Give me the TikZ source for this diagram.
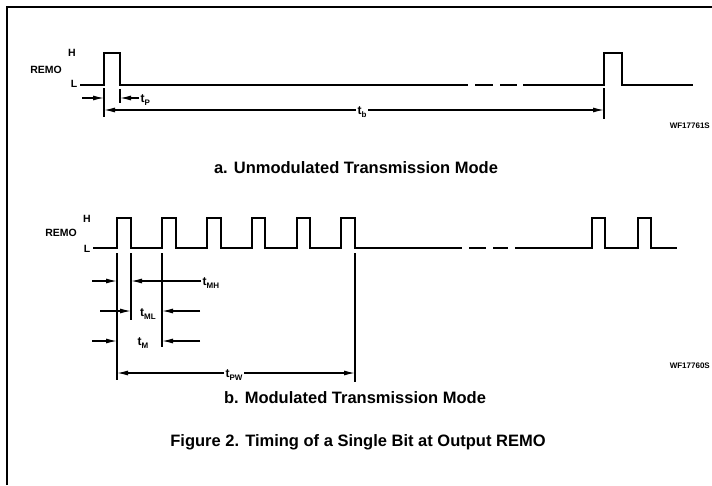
\documentclass[tikz,border=0pt]{standalone}
\usepackage{fontspec}
\setmainfont{Liberation Sans}
\usetikzlibrary{arrows.meta}
\newcommand\tsub[1]{t\raisebox{-0.5ex}{\fontsize{8}{9}\selectfont #1}}
\begin{document}
\begin{tikzpicture}[x=1pt,y=-1pt,
  wave/.style={line width=2.8pt, line join=miter, line cap=butt},
  tickline/.style={line width=1.2pt},
  arr/.style={line width=1.2pt,-{Latex[length=11pt,width=5pt]}},
  lab/.style={font=\bfseries\fontsize{10.5}{11}\selectfont, inner sep=0pt},
  tlab/.style={font=\bfseries\fontsize{12}{13}\selectfont, inner sep=1.5pt},
  code/.style={font=\bfseries\fontsize{8}{9}\selectfont, inner sep=0pt, anchor=east},
  title/.style={font=\bfseries\fontsize{16.5}{18}\selectfont, inner sep=0pt}
]
\useasboundingbox (0,0) rectangle (712,485);
% frame
\draw[line width=1.3pt] (7,485) -- (7,7) -- (712,7);

% ---------------- panel a ----------------
\node[lab] (aH) at (72,53) {H};
\node[lab] (aR) at (46,70) {REMO};
\node[lab] (aL) at (74,84) {L};
\draw[wave] (80,85) -- (104,85) -- (104,53) -- (120,53) -- (120,85) -- (468,85);
\draw[wave] (475,85) -- (493,85);
\draw[wave] (500,85) -- (517,85);
\draw[wave] (523,85) -- (604,85) -- (604,53) -- (622,53) -- (622,85) -- (693,85);

\coordinate (ta1) at (104,88); \coordinate (ta1b) at (104,117);
\coordinate (ta2) at (120,89); \coordinate (ta2b) at (120,103);
\coordinate (ta3) at (604,88); \coordinate (ta3b) at (604,119);
\draw[tickline] (ta1) -- (ta1b);
\draw[tickline] (ta2) -- (ta2b);
\draw[tickline] (ta3) -- (ta3b);

\coordinate (pA) at (82,98); \coordinate (pB) at (104,98);
\draw[arr] (pA) -- (pB);
\node[tlab, anchor=west] (tp) at (139,100) {\tsub{P}};
\coordinate (pC) at (120,98);
\draw[arr] (tp.west |- pC) -- (pC);

\node[tlab] (tb) at (362,112) {\tsub{b}};
\coordinate (bL) at (104,110); \coordinate (bR) at (604,110);
\draw[arr] (tb.west |- bL) -- (bL);
\draw[arr] (tb.east |- bR) -- (bR);

\node[code] (wfa) at (710,126) {WF17761S};
\node[title] (ta) at (356,168) {a. Unmodulated Transmission Mode};

% ---------------- panel b ----------------
\node[lab] (bH) at (87,219) {H};
\node[lab] (bR2) at (61,233) {REMO};
\node[lab] (bL2) at (87,249) {L};
\draw[wave] (93,248) -- (117,248) -- (117,218) -- (131,218) -- (131,248)
  -- (162,248) -- (162,218) -- (176,218) -- (176,248)
  -- (207,248) -- (207,218) -- (221,218) -- (221,248)
  -- (252,248) -- (252,218) -- (265,218) -- (265,248)
  -- (297,248) -- (297,218) -- (310,218) -- (310,248)
  -- (341,248) -- (341,218) -- (355,218) -- (355,248) -- (462,248);
\draw[wave] (469,248) -- (486,248);
\draw[wave] (493,248) -- (508,248);
\draw[wave] (515,248) -- (592,248) -- (592,218) -- (605,218) -- (605,248)
  -- (638,248) -- (638,218) -- (651,218) -- (651,248) -- (677,248);

\coordinate (k1) at (117,253); \coordinate (k1b) at (117,380);
\coordinate (k2) at (131,253); \coordinate (k2b) at (131,320);
\coordinate (k3) at (162,253); \coordinate (k3b) at (162,347);
\coordinate (k4) at (355,253); \coordinate (k4b) at (355,382);
\draw[tickline] (k1) -- (k1b);
\draw[tickline] (k2) -- (k2b);
\draw[tickline] (k3) -- (k3b);
\draw[tickline] (k4) -- (k4b);

% t_MH
\coordinate (mh1) at (92,281); \coordinate (mh2) at (117,281);
\draw[arr] (mh1) -- (mh2);
\node[tlab, anchor=west] (tmh) at (201,283) {\tsub{MH}};
\coordinate (mh3) at (131,281);
\draw[arr] (tmh.west |- mh3) -- (mh3);

% t_ML
\coordinate (ml1) at (100,311); \coordinate (ml2) at (131,311);
\draw[arr] (ml1) -- (ml2);
\node[tlab] (tml) at (148,314) {\tsub{ML}};
\coordinate (ml3) at (200,311); \coordinate (ml4) at (162,311);
\draw[arr] (ml3) -- (ml4);

% t_M
\coordinate (m1) at (92,341); \coordinate (m2) at (117,341);
\draw[arr] (m1) -- (m2);
\node[tlab] (tm) at (143,343) {\tsub{M}};
\coordinate (m3) at (200,341); \coordinate (m4) at (162,341);
\draw[arr] (m3) -- (m4);

% t_PW
\node[tlab] (tpw) at (234,375) {\tsub{PW}};
\coordinate (pwL) at (117,373); \coordinate (pwR) at (355,373);
\draw[arr] (tpw.west |- pwL) -- (pwL);
\draw[arr] (tpw.east |- pwR) -- (pwR);

\node[code] (wfb) at (710,366) {WF17760S};
\node[title] (tbt) at (355,398) {b. Modulated Transmission Mode};
\node[title] (fig) at (358,442) {Figure 2. Timing of a Single Bit at Output REMO};
\end{tikzpicture}
\end{document}
